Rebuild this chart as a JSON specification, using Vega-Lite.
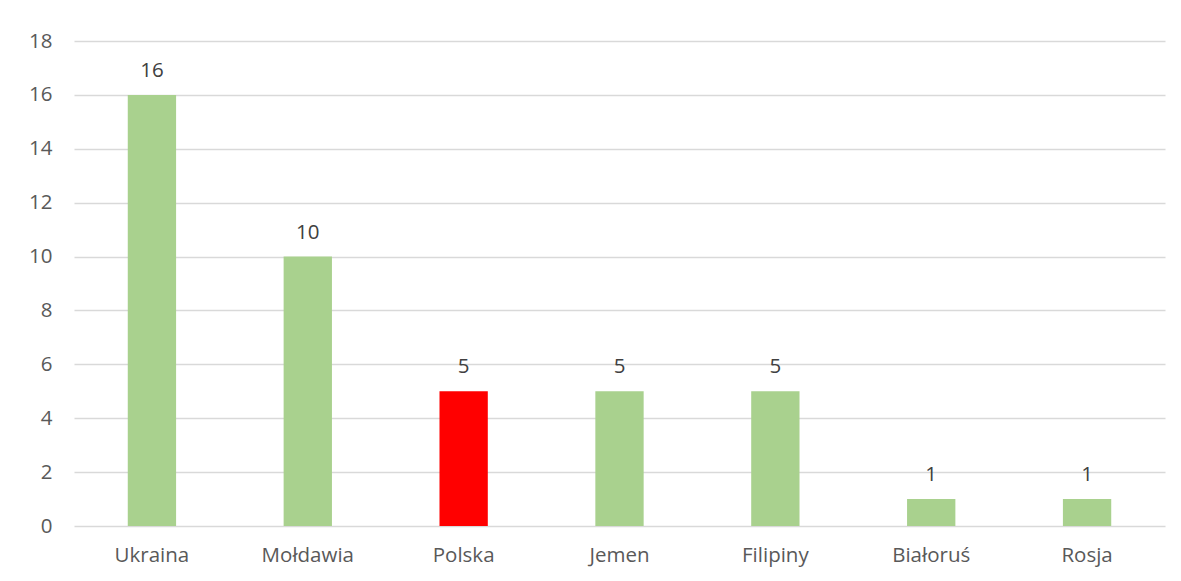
{
  "$schema": "https://vega.github.io/schema/vega-lite/v6.json",
  "width": 1091,
  "height": 485,
  "autosize": {"type": "none"},
  "padding": {"left": 74, "top": 41, "right": 16, "bottom": 55},
  "background": "white",
  "config": {
    "view": {"stroke": null},
    "font": "Open Sans",
    "axis": {"labelFont": "Open Sans", "labelColor": "#595959", "labelFontSize": 20.5, "gridColor": "#d9d9d9", "gridWidth": 1.3, "domain": false, "ticks": false}
  },
  "data": {"values": [
    {"kraj": "Ukraina", "liczba": 16, "wyr": "n"},
    {"kraj": "Mołdawia", "liczba": 10, "wyr": "n"},
    {"kraj": "Polska", "liczba": 5, "wyr": "t"},
    {"kraj": "Jemen", "liczba": 5, "wyr": "n"},
    {"kraj": "Filipiny", "liczba": 5, "wyr": "n"},
    {"kraj": "Białoruś", "liczba": 1, "wyr": "n"},
    {"kraj": "Rosja", "liczba": 1, "wyr": "n"}
  ]},
  "encoding": {
    "x": {"field": "kraj", "type": "nominal", "sort": null, "title": null,
      "scale": {"paddingInner": 0.69, "paddingOuter": 0.345},
      "axis": {"labelAngle": 0, "labelPadding": 19, "grid": false}},
    "y": {"field": "liczba", "type": "quantitative", "title": null,
      "scale": {"domain": [0, 18]},
      "axis": {"values": [0, 2, 4, 6, 8, 10, 12, 14, 16, 18], "labelPadding": 22, "grid": true}}
  },
  "layer": [
    {"mark": {"type": "bar"},
     "encoding": {"color": {"field": "wyr", "type": "nominal", "scale": {"domain": ["n", "t"], "range": ["#a9d18e", "#ff0000"]}, "legend": null}}},
    {"mark": {"type": "text", "baseline": "bottom", "dy": -14, "fontSize": 20.5, "color": "#404040", "font": "Open Sans"},
     "encoding": {"text": {"field": "liczba", "type": "quantitative"}}}
  ]
}
